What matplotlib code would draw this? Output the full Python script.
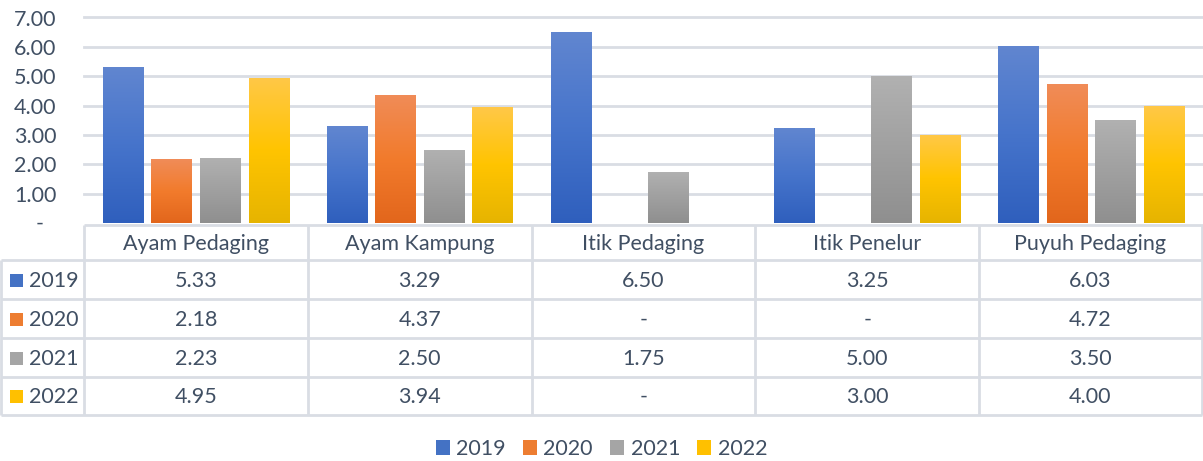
import numpy as np
import matplotlib
matplotlib.use("Agg")
import matplotlib.pyplot as plt
from matplotlib.colors import LinearSegmentedColormap
from matplotlib.patches import Patch, Rectangle

categories = ['Ayam Pedaging', 'Ayam Kampung', 'Itik Pedaging', 'Itik Penelur', 'Puyuh Pedaging']
years = ['2019', '2020', '2021', '2022']
v2019 = [5.33, 3.29, 6.50, 3.25, 6.03]
v2020 = [2.18, 4.37, None, None, 4.72]
v2021 = [2.23, 2.50, 1.75, 5.00, 3.50]
v2022 = [4.95, 3.94, None, 3.00, 4.00]
series = [v2019, v2020, v2021, v2022]
yticks = [1, 2, 3, 4, 5, 6, 7]

grads = [('#2f5fbd', '#4674cb', '#6186d0'),
         ('#e2661c', '#f27b2c', '#f08c58'),
         ('#8f8f8f', '#a0a0a0', '#b1b1b1'),
         ('#e6b400', '#ffc400', '#ffc848')]
solid = ['#4472c4', '#ed7d31', '#a5a5a5', '#ffc000']

txt = '#404f63'
gridc = '#d9dde4'
plt.rcParams['font.family'] = ['Lato', 'DejaVu Sans']
fs = 15.5

W, H = 1203, 461
fig = plt.figure(figsize=(W / 100, H / 100), dpi=100)
L = 84 / W
ax = fig.add_axes([L, (H - 223) / H, 1 - L, (223 - 17.5) / H])
n = len(categories)
x = np.arange(n)
step, bw = 0.217, 0.18
for i, vals in enumerate(series):
    off = (i - 1.5) * step
    hv = [np.nan if v is None else v for v in vals]
    bars = ax.bar(x + off, hv, width=bw, color=solid[i], zorder=3, linewidth=0)
    cmap = LinearSegmentedColormap.from_list('g%d' % i, list(grads[i]))
    for r in bars:
        h = r.get_height()
        if not np.isfinite(h) or h == 0:
            continue
        img = ax.imshow(np.linspace(0, 1, 256).reshape(-1, 1), extent=[r.get_x(), r.get_x() + r.get_width(), 0, h],
                        origin='lower', cmap=cmap, aspect='auto', zorder=3, interpolation='bilinear')
        img.set_clip_path(r)
        r.set_facecolor('none')
ax.set_xlim(-0.5, n - 0.5)
ax.set_ylim(0, 7)
ax.set_yticks(yticks)
ax.set_yticklabels(['%.2f' % t for t in yticks], color=txt, fontsize=fs)
ax.tick_params(axis='y', length=0, pad=20)
ax.set_xticks([])
ax.yaxis.grid(True, color=gridc, linewidth=2, zorder=0)
for t in ax.yaxis.get_gridlines():
    t.set_clip_on(False)
for s in ax.spines.values():
    s.set_visible(False)
fig.text(40 / W, (H - 224) / H, '-', color=txt, fontsize=fs, ha='center', va='center')

# table
tax = fig.add_axes([0, 0, 1, 1])
tax.set_xlim(0, W)
tax.set_ylim(H, 0)
tax.axis('off')
cw = (W - 84) / n
edges = [84 + k * cw for k in range(n + 1)]
edges[-1] = W - 1.5
rows = [225, 260, 299, 338, 377, 415]
lk = dict(color=gridc, linewidth=2, solid_capstyle='butt')
tax.plot([84, W], [rows[0], rows[0]], **lk)
for yy in rows[1:]:
    tax.plot([1, W - 1.5], [yy, yy], **lk)
for e in edges:
    tax.plot([e, e], [rows[0], rows[-1]], **lk)
tax.plot([1, 1], [rows[1], rows[-1]], **lk)
for j, c in enumerate(categories):
    tax.text((edges[j] + edges[j + 1]) / 2, (rows[0] + rows[1]) / 2 + 1, c, ha='center', va='center', color=txt, fontsize=fs)
for i, vals in enumerate(series):
    yc = (rows[i + 1] + rows[i + 2]) / 2 + 1
    tax.add_patch(Rectangle((10, yc - 7), 13, 13, facecolor=solid[i], edgecolor='none'))
    tax.text(29, yc, years[i], ha='left', va='center', color=txt, fontsize=fs)
    for j, v in enumerate(vals):
        s = '-' if v is None else '%.2f' % v
        tax.text((edges[j] + edges[j + 1]) / 2, yc, s, ha='center', va='center', color=txt, fontsize=fs)

handles = [Patch(facecolor=solid[i], edgecolor='none') for i in range(4)]
fig.legend(handles, years, loc='center', bbox_to_anchor=(0.5, (H - 449) / H), ncol=4, frameon=False,
           fontsize=fs, labelcolor=txt, handlelength=0.65, handleheight=0.65, handletextpad=0.3, columnspacing=0.8)

fig.savefig('out.png', dpi=100)
